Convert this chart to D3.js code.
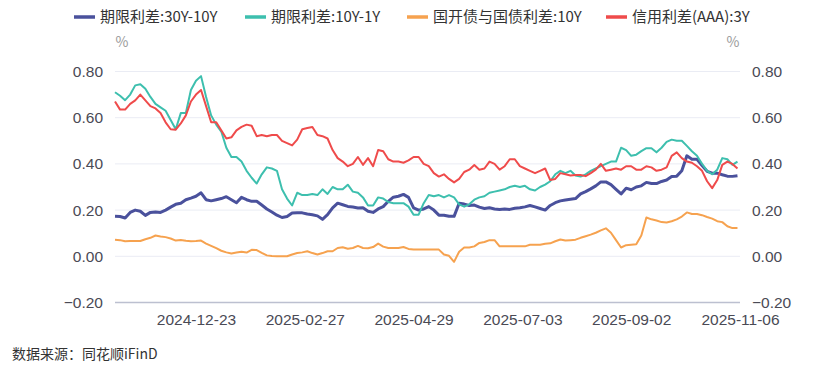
<!DOCTYPE html>
<html>
<head>
<meta charset="utf-8">
<script src="https://cdn.jsdelivr.net/npm/d3@7"></script>
<style>
  html, body { margin: 0; padding: 0; background: #ffffff; }
  svg { display: block; font-family: "Noto Sans CJK SC", "Noto Sans", sans-serif; }
</style>
</head>
<body>
<svg id="chart" width="830" height="374"></svg>
<script>
// ---------------- data ----------------
const seriesNames = ["期限利差:30Y-10Y", "期限利差:10Y-1Y", "国开债与国债利差:10Y", "信用利差(AAA):3Y"];
const seriesColors = ["#4a519c", "#3dbfae", "#f6a24f", "#ef4b4b"];
// trading-day index of the labelled dates (0 = first day of the sample, 247 = last)
const tickDays = [32, 75, 118, 161, 204, 247];
const tickLabels = ["2024-12-23", "2025-02-27", "2025-04-29", "2025-07-03", "2025-09-02", "2025-11-06"];
const yTicks = [-0.2, 0, 0.2, 0.4, 0.6, 0.8];
const lastDay = 247;
const sampleStep = 2; // one value every 2 trading days

const spread30y10y = [
  0.173,0.172,0.166,0.19,0.20,0.195,0.177,0.19,0.192,0.19,0.20,0.213,0.225,0.23,0.245,0.252,0.26,0.275,0.245,0.24,
  0.245,0.25,0.258,0.245,0.232,0.255,0.245,0.238,0.238,0.222,0.205,0.192,0.178,0.168,0.172,0.187,0.188,0.188,0.183,0.18,
  0.175,0.16,0.18,0.21,0.23,0.223,0.216,0.213,0.209,0.21,0.195,0.19,0.205,0.215,0.238,0.256,0.26,0.268,0.255,0.21,
  0.20,0.205,0.215,0.20,0.178,0.178,0.173,0.173,0.23,0.226,0.22,0.222,0.213,0.207,0.21,0.205,0.203,0.205,0.203,0.208,
  0.21,0.214,0.22,0.214,0.207,0.20,0.22,0.232,0.24,0.244,0.247,0.25,0.27,0.28,0.292,0.305,0.322,0.322,0.31,0.29,
  0.27,0.295,0.288,0.30,0.305,0.32,0.315,0.315,0.324,0.33,0.345,0.347,0.37,0.435,0.42,0.42,0.393,0.368,0.36,0.36,
  0.353,0.347,0.346,0.349
];
const spread10y1y = [
  0.71,0.695,0.676,0.70,0.74,0.745,0.725,0.69,0.66,0.645,0.63,0.59,0.55,0.62,0.62,0.72,0.76,0.78,0.69,0.61,
  0.57,0.54,0.47,0.43,0.43,0.41,0.37,0.34,0.315,0.355,0.385,0.38,0.37,0.29,0.25,0.22,0.275,0.265,0.265,0.27,
  0.265,0.29,0.27,0.30,0.29,0.29,0.31,0.28,0.275,0.255,0.22,0.22,0.255,0.25,0.235,0.23,0.23,0.23,0.215,0.18,
  0.18,0.23,0.265,0.26,0.265,0.255,0.265,0.255,0.225,0.215,0.225,0.245,0.255,0.26,0.275,0.28,0.285,0.29,0.30,0.305,
  0.30,0.305,0.29,0.285,0.30,0.31,0.325,0.355,0.37,0.36,0.37,0.35,0.345,0.355,0.37,0.38,0.39,0.40,0.41,0.41,
  0.47,0.46,0.435,0.44,0.455,0.468,0.468,0.45,0.47,0.495,0.505,0.50,0.50,0.478,0.455,0.435,0.40,0.37,0.355,0.375,
  0.425,0.42,0.396,0.41
];
const cdbSpread10y = [
  0.072,0.07,0.065,0.066,0.066,0.066,0.074,0.08,0.09,0.086,0.083,0.077,0.068,0.071,0.067,0.065,0.066,0.068,0.055,0.045,
  0.035,0.024,0.017,0.012,0.016,0.02,0.016,0.028,0.027,0.015,0.004,0.001,0.0,0.0,0.0,0.008,0.014,0.017,0.022,0.014,
  0.008,0.014,0.022,0.022,0.036,0.039,0.033,0.036,0.045,0.036,0.035,0.04,0.055,0.042,0.036,0.036,0.036,0.04,0.032,0.029,
  0.029,0.029,0.029,0.029,0.029,0.008,0.002,-0.024,0.02,0.038,0.038,0.043,0.058,0.062,0.07,0.07,0.043,0.043,0.043,0.043,
  0.043,0.043,0.05,0.05,0.05,0.054,0.056,0.065,0.073,0.068,0.07,0.072,0.08,0.087,0.094,0.102,0.112,0.121,0.102,0.07,
  0.038,0.048,0.05,0.052,0.09,0.168,0.16,0.155,0.148,0.146,0.152,0.16,0.172,0.19,0.183,0.183,0.178,0.17,0.163,0.152,
  0.148,0.13,0.122,0.122
];
const creditSpreadAAA3y = [
  0.67,0.635,0.635,0.66,0.675,0.70,0.675,0.65,0.64,0.62,0.58,0.55,0.548,0.575,0.61,0.67,0.70,0.72,0.65,0.58,
  0.58,0.545,0.51,0.515,0.545,0.56,0.57,0.565,0.52,0.525,0.52,0.525,0.525,0.50,0.49,0.48,0.505,0.55,0.555,0.56,
  0.525,0.52,0.51,0.46,0.425,0.41,0.39,0.40,0.43,0.396,0.425,0.39,0.46,0.455,0.42,0.41,0.41,0.405,0.415,0.43,
  0.43,0.40,0.39,0.36,0.345,0.355,0.335,0.32,0.335,0.365,0.375,0.395,0.375,0.38,0.41,0.40,0.375,0.39,0.42,0.42,
  0.39,0.38,0.37,0.36,0.37,0.38,0.33,0.335,0.36,0.355,0.35,0.352,0.352,0.347,0.36,0.375,0.40,0.37,0.375,0.38,
  0.375,0.39,0.39,0.375,0.375,0.39,0.385,0.37,0.375,0.385,0.435,0.45,0.425,0.41,0.405,0.39,0.37,0.325,0.295,0.33,
  0.396,0.41,0.40,0.38
];
const allSeries = [spread30y10y, spread10y1y, cdbSpread10y, creditSpreadAAA3y];

// ---------------- layout ----------------
const svg = d3.select("#chart");
const plot = { left: 115, right: 740, top: 71.5, bottom: 302.5 };

const x = d3.scaleLinear().domain([0, lastDay]).range([plot.left, plot.right]);
const y = d3.scaleLinear().domain([-0.2, 0.8]).range([plot.bottom, plot.top]);

// grid lines
svg.append("g").selectAll("line").data(yTicks).join("line")
  .attr("x1", plot.left).attr("x2", plot.right)
  .attr("y1", d => y(d)).attr("y2", d => y(d))
  .attr("stroke", d => d === -0.2 ? "#bcc0d0" : "#eaecf4")
  .attr("stroke-width", d => d === -0.2 ? 1.5 : 1);

const tickFont = "'Liberation Sans', Arial, sans-serif";

// left axis
const leftAxis = svg.append("g").attr("transform", `translate(${plot.left - 12},0)`)
  .call(d3.axisLeft(y).tickValues(yTicks).tickFormat(d3.format(".2f")).tickSize(0).tickPadding(0));
leftAxis.select(".domain").remove();
leftAxis.selectAll("text").attr("fill", "#4a4a55").attr("font-size", 15.5)
  .attr("font-family", tickFont);

// right axis
const rightAxis = svg.append("g").attr("transform", `translate(${plot.right + 12},0)`)
  .call(d3.axisRight(y).tickValues(yTicks).tickFormat(d3.format(".2f")).tickSize(0).tickPadding(0));
rightAxis.select(".domain").remove();
rightAxis.selectAll("text").attr("fill", "#4a4a55").attr("font-size", 15.5)
  .attr("font-family", tickFont);

// bottom axis labels
const bottomAxis = svg.append("g").attr("transform", `translate(0,${plot.bottom})`)
  .call(d3.axisBottom(x).tickValues(tickDays).tickFormat((d, i) => tickLabels[i]).tickSize(0).tickPadding(11));
bottomAxis.select(".domain").remove();
bottomAxis.selectAll("text").attr("fill", "#4a4a55").attr("font-size", 15.5)
  .attr("font-family", tickFont);

// unit labels
svg.append("text").attr("x", 122).attr("y", 47).attr("text-anchor", "middle")
  .attr("fill", "#9a9a9a").attr("font-size", 14).text("%");
svg.append("text").attr("x", 733).attr("y", 47).attr("text-anchor", "middle")
  .attr("fill", "#9a9a9a").attr("font-size", 14).text("%");

// lines
const line = d3.line()
  .x((d, i) => x(i * sampleStep))
  .y(d => y(d));
allSeries.forEach((s, k) => {
  svg.append("path").datum(s)
    .attr("fill", "none")
    .attr("stroke", seriesColors[k])
    .attr("stroke-width", k === 0 ? 3 : 2)
    .attr("stroke-linejoin", "round")
    .attr("d", line);
});

// legend
const legendX = [74, 245, 407, 606];
const legend = svg.append("g");
seriesNames.forEach((name, k) => {
  const g = legend.append("g").attr("transform", `translate(${legendX[k]},17)`);
  g.append("line").attr("x1", 0).attr("x2", 21).attr("y1", 0).attr("y2", 0)
    .attr("stroke", seriesColors[k]).attr("stroke-width", 3.5);
  g.append("text").attr("x", 26).attr("y", 0).attr("dy", "0.35em")
    .attr("fill", "#333").attr("font-size", 15).text(name);
});

// source
svg.append("text").attr("x", 12).attr("y", 354).attr("dy", "0.35em")
  .attr("fill", "#333").attr("font-size", 14).text("数据来源：同花顺iFinD");
</script>
</body>
</html>
